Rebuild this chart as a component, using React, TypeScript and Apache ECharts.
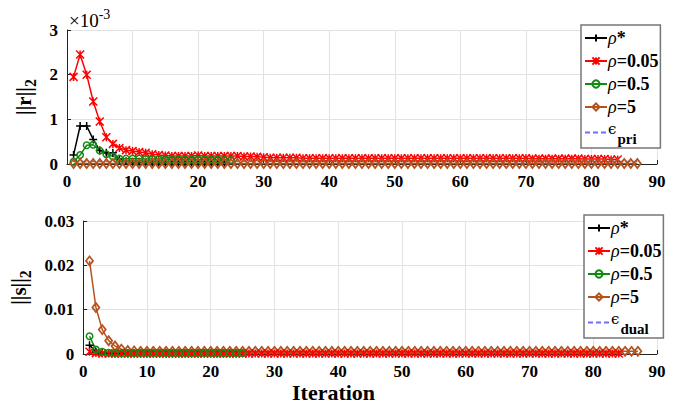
import React, { useEffect, useRef } from "react";
import * as echarts from "echarts";

// Top panel: ||r||_2 in units of 1e-3
const rStar = [0.2, 0.85, 0.85, 0.55, 0.3, 0.25, 0.25, 0.1, 0.06, 0.05, 0.05, 0.05, 0.04, 0.04, 0.04, 0.04, 0.04, 0.04, 0.04, 0.04, 0.04, 0.04, 0.04, 0.04];
const r005 = [1.95, 2.45, 2.0, 1.4, 0.95, 0.6, 0.45, 0.36, 0.31, 0.29, 0.27, 0.25, 0.22, 0.2, 0.19, 0.18, 0.18, 0.18, 0.18, 0.19, 0.18, 0.18, 0.18, 0.18, 0.18, 0.18, 0.17, 0.17, 0.16, 0.15,
  0.14, 0.14, 0.14, 0.14, 0.14, 0.13, 0.13, 0.13, 0.13, 0.13, 0.13, 0.13, 0.13, 0.13, 0.13, 0.13, 0.13, 0.13, 0.13, 0.13, 0.13, 0.13, 0.13, 0.13, 0.13, 0.13, 0.13, 0.13, 0.13, 0.13,
  0.13, 0.13, 0.13, 0.13, 0.13, 0.13, 0.13, 0.13, 0.13, 0.13, 0.12, 0.12, 0.12, 0.12, 0.12, 0.12, 0.12, 0.12, 0.11, 0.11, 0.11, 0.11, 0.1, 0.1];
const r05 = [0.05, 0.2, 0.42, 0.43, 0.3, 0.22, 0.17, 0.12, 0.12, 0.12, 0.12, 0.11, 0.11, 0.11, 0.11, 0.1, 0.1, 0.1, 0.1, 0.1, 0.1, 0.1, 0.1, 0.09, 0.09];
const r5 = Array.from({ length: 87 }, () => 0.01);
const epsPri = Array.from({ length: 87 }, () => 0.06);

// Bottom panel: ||s||_2
const sStar = [0.002, 0.0005, 0.0002, 0.0002, 0.0001, 0.0001, 0.0001, 0.0001, 0.0001, 0.0001, 0.0001, 0.0001, 0.0001, 0.0001, 0.0001, 0.0001, 0.0001, 0.0001, 0.0001, 0.0001, 0.0001, 0.0001, 0.0001, 0.0001];
const s005 = [0.0005, 0.0002, ...Array.from({ length: 82 }, () => 0.0001)];
const s05 = [0.004, 0.001, 0.0005, 0.0003, 0.0002, 0.0002, 0.0002, 0.0002, 0.0002, 0.0002, 0.0002, 0.0002, 0.0002, 0.0002, 0.0002, 0.0002, 0.0002, 0.0002, 0.0002, 0.0002, 0.0002, 0.0002, 0.0002, 0.0002, 0.0002];
const s5 = [0.021, 0.0105, 0.0055, 0.003, 0.0018, 0.0011, 0.0008, 0.0007, ...Array.from({ length: 79 }, () => 0.0006)];
const epsDual = Array.from({ length: 87 }, () => 0.0001);

const xTicks = [0, 10, 20, 30, 40, 50, 60, 70, 80, 90];

const FONT = "Liberation Serif";
const C_BLACK = "#000000";
const C_RED = "#ff0000";
const C_GREEN = "#108a10";
const C_BROWN = "#b5531f";
const C_BLUE = "#6f6fff";

const PLUS = "path://M0,-5L0,5M-5,0L5,0";
const STAR = "path://M-5,-5L5,5M-5,5L5,-5M0,-5L0,5";

const toPts = (arr: number[]) => arr.map((v, i) => [i + 1, v]);

const labels: Record<string, string> = {
  rstar: "{i|ρ}{n|*}", r005: "{i|ρ}{n|=0.05}", r05: "{i|ρ}{n|=0.5}", r5: "{i|ρ}{n|=5}", repsi: "{e|ϵ}{s|pri}",
  sstar: "{i|ρ}{n|*}", s005: "{i|ρ}{n|=0.05}", s05: "{i|ρ}{n|=0.5}", s5: "{i|ρ}{n|=5}", sepsi: "{e|ϵ}{s|dual}",
};

const legendRich = {
  i: { fontFamily: FONT, fontStyle: "italic", fontSize: 18, color: "#000" },
  n: { fontFamily: FONT, fontWeight: "bold", fontSize: 18, color: "#000" },
  e: { fontFamily: "DejaVu Serif", fontSize: 15, color: "#000", padding: [0, 1, 8, 0] },
  s: { fontFamily: FONT, fontWeight: "bold", fontSize: 15, color: "#000", padding: [12, 0, 0, 0] },
};

function mkSeries(name: string, data: number[], color: string, symbol: string, axis: number, dashed = false) {
  return {
    name,
    type: "line",
    xAxisIndex: axis,
    yAxisIndex: axis,
    data: toPts(data),
    symbol: dashed ? "none" : symbol,
    symbolSize: symbol === "circle" ? 6.5 : symbol === "diamond" ? [7, 9] : 8,
    showSymbol: !dashed,
    lineStyle: { color, width: dashed ? 1.2 : 1.5, type: dashed ? [5, 3] : "solid" },
    itemStyle: dashed
      ? { color: "rgba(0,0,0,0)", borderColor: "rgba(0,0,0,0)", borderWidth: 0 }
      : { color: "rgba(255,255,255,0)", borderColor: color, borderWidth: symbol === "diamond" ? 1.8 : 1.5 },
    emphasis: { disabled: true },
    z: dashed ? 1 : 2,
  };
}

export default function App() {
  const ref = useRef<HTMLDivElement>(null);
  useEffect(() => {
    if (!ref.current) return;
    const chart = echarts.init(ref.current, null, { renderer: "svg" });
    const axisLabel = { fontFamily: FONT, fontWeight: "bold", fontSize: 17, color: "#000", margin: 9 };
    const xAxisBase = {
      type: "value", min: 0, max: 90, interval: 10,
      axisLine: { show: true, onZero: false, lineStyle: { color: "#222", width: 1 } },
      axisTick: { show: true, inside: true, length: 4, lineStyle: { color: "#222" } },
      splitLine: { show: true, lineStyle: { color: "#e2e2e2", width: 1 } },
      axisLabel: { ...axisLabel, formatter: (v: number) => (xTicks.includes(v) ? String(v) : "") },
    };
    const yAxisBase = {
      type: "value",
      axisLine: { show: true, lineStyle: { color: "#222", width: 1 } },
      axisTick: { show: true, inside: true, length: 4, lineStyle: { color: "#222" } },
      splitLine: { show: true, lineStyle: { color: "#e2e2e2", width: 1 } },
      axisLabel,
      nameLocation: "middle",
      nameRotate: 90,
    };
    const nameRich = {
      a: { fontFamily: FONT, fontWeight: "bold", fontSize: 21, color: "#000" },
      b: { fontFamily: FONT, fontWeight: "bold", fontSize: 16, color: "#000", padding: [14, 0, 0, 0] },
    };
    chart.setOption({
      animation: false,
      backgroundColor: "#fff",
      grid: [
        { left: 67, right: 20, top: 30, height: 134 },
        { left: 67, right: 20, top: 221, height: 133 },
      ],
      xAxis: [
        { ...xAxisBase, gridIndex: 0 },
        { ...xAxisBase, gridIndex: 1 },
      ],
      yAxis: [
        { ...yAxisBase, gridIndex: 0, min: 0, max: 3, interval: 1, name: "{a|||r||}{b|2}", nameGap: 22, nameTextStyle: { rich: nameRich } },
        {
          ...yAxisBase, gridIndex: 1, min: 0, max: 0.03, interval: 0.01, name: "{a|||s||}{b|2}", nameGap: 44, nameTextStyle: { rich: nameRich },
          axisLabel: { ...axisLabel, formatter: (v: number) => (v === 0 ? "0" : v.toFixed(2)) },
        },
      ],
      legend: [
        {
          data: ["rstar", "r005", "r05", "r5", "repsi"],
          orient: "vertical", left: 581, top: 25,
          itemWidth: 22, itemHeight: 9, itemGap: 5,
          borderColor: "#777", borderWidth: 1.5, backgroundColor: "#fff",
          padding: [4, 2, 2, 3],
          formatter: (n: string) => labels[n],
          textStyle: { rich: legendRich, padding: [0, 0, 0, -4] },
          selectedMode: false,
        },
        {
          data: ["sstar", "s005", "s05", "s5", "sepsi"],
          orient: "vertical", left: 584, top: 215,
          itemWidth: 22, itemHeight: 9, itemGap: 5,
          borderColor: "#777", borderWidth: 1.5, backgroundColor: "#fff",
          padding: [4, 2, 2, 3],
          formatter: (n: string) => labels[n],
          textStyle: { rich: legendRich, padding: [0, 0, 0, -4] },
          selectedMode: false,
        },
      ],
      graphic: [
        {
          type: "text", left: 69, top: 7,
          style: { text: "{x|×10}{p|-3}", rich: { x: { fontFamily: FONT, fontSize: 19, fill: "#000" }, p: { fontFamily: FONT, fontSize: 14, fill: "#000", padding: [0, 0, 12, 0] } } },
        },
        {
          type: "text", left: 292, top: 381,
          style: { text: "Iteration", fontFamily: FONT, fontWeight: "bold", fontSize: 22, fill: "#000" },
        },
      ],
      series: [
        mkSeries("repsi", epsPri, C_BLUE, "none", 0, true),
        mkSeries("rstar", rStar, C_BLACK, PLUS, 0),
        mkSeries("r005", r005, C_RED, STAR, 0),
        mkSeries("r05", r05, C_GREEN, "circle", 0),
        mkSeries("r5", r5, C_BROWN, "diamond", 0),
        mkSeries("sepsi", epsDual, C_BLUE, "none", 1, true),
        mkSeries("sstar", sStar, C_BLACK, PLUS, 1),
        mkSeries("s5", s5, C_BROWN, "diamond", 1),
        mkSeries("s005", s005, C_RED, STAR, 1),
        mkSeries("s05", s05, C_GREEN, "circle", 1),
      ],
    });
    return () => chart.dispose();
  }, []);
  return <div ref={ref} style={{ width: 677, height: 403, position: "absolute", left: 0, top: 0 }} />;
}
